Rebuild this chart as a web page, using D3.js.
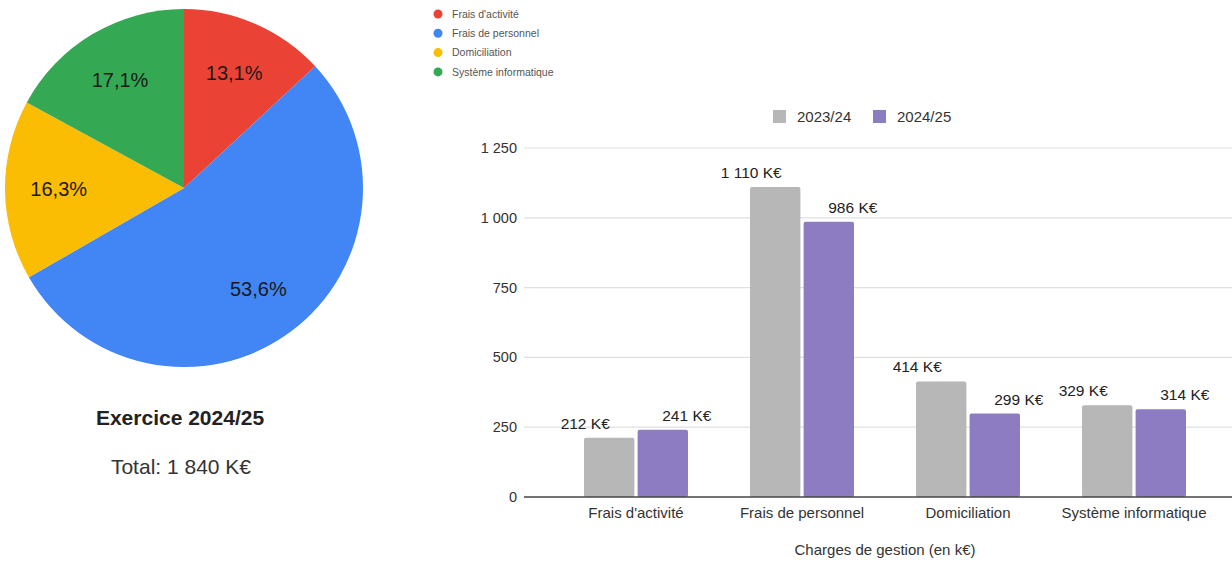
<!DOCTYPE html>
<html>
<head>
<meta charset="utf-8">
<script src="https://cdn.jsdelivr.net/npm/d3@7"></script>
<style>
  body { margin: 0; background: #fff; }
  svg { font-family: "Liberation Sans", Arial, sans-serif; display: block; }
</style>
</head>
<body>
<div id="chart"></div>
<script>
// Data
const categories = ["Frais d'activité", "Frais de personnel", "Domiciliation", "Système informatique"];
const seriesNames = ["2023/24", "2024/25"];
const values2324 = [212, 1110, 414, 329];
const values2425 = [241, 986, 299, 314];
const yTicks = [0, 250, 500, 750, 1000, 1250];
const pieColors = ["#ea4335", "#4285f4", "#fbbc04", "#34a853"];
const barColors = ["#b7b7b7", "#8e7cc3"];

const W = 1232, H = 562;
const svg = d3.select('#chart').append('svg')
    .attr('width', W)
    .attr('height', H);

// French number format: space as thousands separator
const fr = d3.formatLocale({decimal: ',', thousands: ' ', grouping: [3], currency: ['', ' €']});
const fmtInt = fr.format(',d');
const fmtPct = fr.format('.1f');

// ---- Pie ----
const cx = 184, cy = 188, R = 179;
const total = d3.sum(values2425);
const pie = d3.pie().sort(null)(values2425);
const arc = d3.arc().innerRadius(0).outerRadius(R);
const labelArc = d3.arc().innerRadius(R * 0.7).outerRadius(R * 0.7);

const pg = svg.append('g').attr('transform', `translate(${cx},${cy})`);
pg.selectAll('path')
  .data(pie)
  .join('path')
    .attr('d', arc)
    .attr('fill', (d, i) => pieColors[i]);

pg.selectAll('text')
  .data(pie)
  .join('text')
    .attr('transform', d => `translate(${labelArc.centroid(d)})`)
    .attr('text-anchor', 'middle')
    .attr('dy', '0.35em')
    .attr('font-size', 20)
    .attr('fill', '#1a1a1a')
    .text(d => fmtPct(d.data / total * 100) + '%');

svg.append('text')
   .attr('x', 180).attr('y', 425)
   .attr('text-anchor', 'middle')
   .attr('font-size', 21).attr('font-weight', 'bold')
   .attr('fill', '#222')
   .text('Exercice 2024/25');

svg.append('text')
   .attr('x', 181).attr('y', 474)
   .attr('text-anchor', 'middle')
   .attr('font-size', 21)
   .attr('fill', '#333')
   .text('Total: ' + fmtInt(total) + ' K€');

// Pie legend
const pl = svg.append('g').attr('transform', 'translate(438,14)');
categories.forEach((c, i) => {
    const g = pl.append('g').attr('transform', `translate(0,${i * 19.3})`);
    g.append('circle').attr('r', 4.5).attr('fill', pieColors[i]);
    g.append('text')
     .attr('x', 14).attr('dy', '0.35em')
     .attr('font-size', 10.5).attr('fill', '#555')
     .text(c);
});

// ---- Bars ----
const y = d3.scaleLinear().domain([0, 1250]).range([497, 148]);
const x = d3.scaleBand().domain(categories).range([553, 1217]).padding(0);
const xs = d3.scaleBand().domain(seriesNames).range([-52, 52]).paddingInner(0.06);

const bg = svg.append('g');
bg.selectAll('line.grid')
  .data(yTicks.filter(t => t > 0))
  .join('line')
    .attr('class', 'grid')
    .attr('x1', 524).attr('x2', W)
    .attr('y1', d => y(d)).attr('y2', d => y(d))
    .attr('stroke', '#e0e0e0').attr('stroke-width', 1.2);

bg.selectAll('text.ytick')
  .data(yTicks)
  .join('text')
    .attr('class', 'ytick')
    .attr('x', 517).attr('y', d => y(d))
    .attr('dy', '0.35em')
    .attr('text-anchor', 'end')
    .attr('font-size', 14.5).attr('fill', '#333')
    .text(d => fmtInt(d));

const series = [values2324, values2425];
series.forEach((vals, s) => {
    const g = bg.append('g');
    g.selectAll('rect')
     .data(vals)
     .join('rect')
       .attr('x', (d, i) => x(categories[i]) + x.bandwidth() / 2 + xs(seriesNames[s]))
       .attr('y', d => y(d))
       .attr('width', xs.bandwidth())
       .attr('height', d => y(0) - y(d))
       .attr('rx', 2)
       .attr('fill', barColors[s]);
    g.selectAll('text')
     .data(vals)
     .join('text')
       .attr('x', (d, i) => x(categories[i]) + x.bandwidth() / 2 + xs(seriesNames[s]) + xs.bandwidth() / 2 + (s === 0 ? -24 : 24))
       .attr('y', d => y(d) - 9)
       .attr('text-anchor', 'middle')
       .attr('font-size', 15.5).attr('fill', '#222')
       .text(d => fmtInt(d) + ' K€');
});

// baseline
bg.append('line')
  .attr('x1', 524).attr('x2', W)
  .attr('y1', y(0)).attr('y2', y(0))
  .attr('stroke', '#444').attr('stroke-width', 1.5);

bg.selectAll('text.xtick')
  .data(categories)
  .join('text')
    .attr('class', 'xtick')
    .attr('x', d => x(d) + x.bandwidth() / 2)
    .attr('y', 518)
    .attr('text-anchor', 'middle')
    .attr('font-size', 15).attr('fill', '#333')
    .text(d => d);

bg.append('text')
  .attr('x', 885).attr('y', 555)
  .attr('text-anchor', 'middle')
  .attr('font-size', 15).attr('fill', '#333')
  .text('Charges de gestion (en k€)');

// Bar legend
const bl = svg.append('g');
const legX = [773, 873];
seriesNames.forEach((n, i) => {
    bl.append('rect')
      .attr('x', legX[i]).attr('y', 110)
      .attr('width', 13).attr('height', 13)
      .attr('fill', barColors[i]);
    bl.append('text')
      .attr('x', legX[i] + 24).attr('y', 116.5)
      .attr('dy', '0.35em')
      .attr('font-size', 15).attr('fill', '#333')
      .text(n);
});
</script>
</body>
</html>
